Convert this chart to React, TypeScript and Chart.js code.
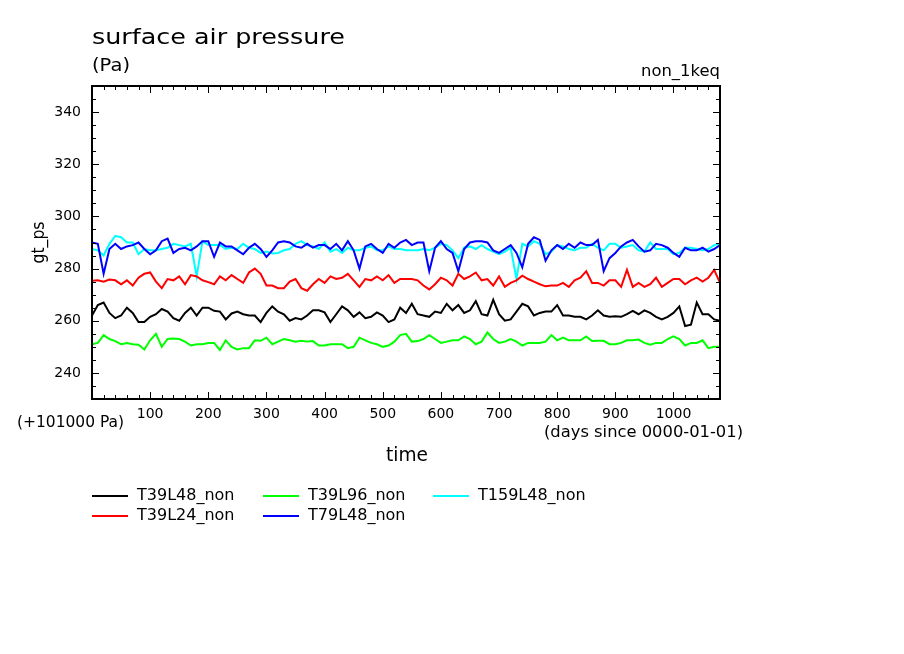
import React, { useEffect, useRef } from "react";
import { Chart, registerables } from "chart.js";

Chart.register(...registerables);

const DAYS = [
  0, 10, 20, 30, 40, 50, 60, 70, 80, 90, 100, 110, 120, 130, 140, 150, 160, 170,
  180, 190, 200, 210, 220, 230, 240, 250, 260, 270, 280, 290, 300, 310, 320, 330, 340, 350,
  360, 370, 380, 390, 400, 410, 420, 430, 440, 450, 460, 470, 480, 490, 500, 510, 520, 530,
  540, 550, 560, 570, 580, 590, 600, 610, 620, 630, 640, 650, 660, 670, 680, 690, 700, 710,
  720, 730, 740, 750, 760, 770, 780, 790, 800, 810, 820, 830, 840, 850, 860, 870, 880, 890,
  900, 910, 920, 930, 940, 950, 960, 970, 980, 990, 1000, 1010, 1020, 1030, 1040, 1050, 1060, 1070, 1080,
];

const T39L48 = [
  262, 266, 267, 263, 261, 262, 265, 263, 259.5, 259.5, 261.5, 262.5, 264.5, 263.5, 261, 260, 263, 265,
  262, 265, 265, 263.8, 263.5, 260.5, 262.8, 263.5, 262.5, 262, 262, 259.5, 263, 265.5, 263.5, 262.5, 260, 261,
  260.5, 262, 264, 264, 263.2, 259.5, 262.5, 265.5, 264, 261.5, 263.2, 261, 261.5, 263.2, 262, 259.5, 260.5, 265,
  263, 266.5, 262.5, 262, 261.5, 263.5, 263, 266.5, 264, 266, 263, 264, 267.5, 262.5, 262, 268, 262.5, 260,
  260.5, 263.5, 266.5, 265.5, 262, 263, 263.5, 263.5, 266, 262, 262, 261.5, 261.5, 260.5, 262, 264, 262, 261.5,
  261.7, 261.5, 262.5, 263.8, 262.5, 264, 263, 261.5, 260.5, 261.5, 263, 265.5, 258, 258.5, 267, 262.5, 262.5, 260.5, 260,
];

const T39L24 = [
  275.3, 275.5, 275, 275.8, 275.5, 274, 275.5, 273.5, 276.5, 278, 278.5, 275, 272.5, 276, 275.5, 277, 274, 277.5,
  277, 275.5, 274.8, 274, 277, 275.5, 277.5, 276, 274.5, 278.5, 280, 278, 273.5, 273.5, 272.5, 272.5, 275, 276,
  272.5, 271.5, 274, 276, 274.5, 277, 276, 276.5, 278, 275.5, 273, 276, 275.5, 277, 275.5, 277.5, 274.5, 276,
  276, 276, 275.5, 273.5, 272, 274, 276.5, 275.5, 273.5, 278, 276, 277, 278.5, 275.5, 276, 273.5, 277, 273,
  274.5, 275.5, 277.3, 276, 275, 274, 273.2, 273.5, 273.5, 274.5, 273, 275.5, 276.5, 279, 274.5, 274.5, 273.5, 275.5,
  275.5, 273, 279.5, 273, 274.5, 273, 274, 276.5, 273, 274.5, 276, 276, 274, 275.5, 276.5, 275, 276.5, 279.5, 274.5,
];

const T39L96 = [
  251, 251.5, 254.5, 253, 252.2, 251, 251.5, 251, 250.8, 249, 252.5, 255, 250, 253, 253.2, 253, 252, 250.5,
  251, 251, 251.5, 251.5, 248.8, 252.5, 250, 249, 249.5, 249.5, 252.5, 252.3, 253.5, 251, 252, 253, 252.5, 252,
  252.3, 252, 252.2, 250.5, 250.5, 251, 251, 251, 249.5, 250, 253.5, 252.5, 251.5, 251, 250, 250.5, 252, 254.5,
  255, 252, 252.2, 253, 254.5, 253, 251.5, 252, 252.5, 252.5, 254, 253, 251, 252, 255.5, 253, 251.5, 252,
  253, 252, 250.5, 251.5, 251.5, 251.5, 252, 254.5, 252.5, 253.5, 252.5, 252.5, 252.5, 254, 252.2, 252.3, 252.3, 251,
  251, 251.5, 252.5, 252.5, 252.8, 251.5, 250.8, 251.5, 251.5, 253, 254, 253, 250.5, 251.5, 251.5, 252.5, 249.5, 250, 250,
];

const T79L48 = [
  290, 289.5, 278, 287.5, 289.5, 287.5, 288.5, 289, 290, 287.5, 285.5, 287, 290.5, 291.5, 286, 287.5, 288, 287,
  288.5, 290.5, 290.5, 284.5, 290, 288.5, 288.5, 287, 285.5, 288, 289.5, 287.5, 284.5, 287, 290, 290.5, 290, 288.5,
  288, 289.5, 288, 289, 289, 287.5, 289.5, 287, 290.5, 287, 280, 288.5, 289.5, 287.5, 286, 289.5, 288, 290,
  291, 289, 290, 290, 279, 288, 290.5, 287.5, 286, 279, 287.5, 290, 290.5, 290.5, 290, 287, 286, 287.5,
  289, 286, 280.5, 289.5, 292, 291, 283, 287, 289, 287.5, 289.5, 288, 290, 289, 289, 291, 279, 284,
  286, 288.5, 290, 291, 288.5, 286.5, 287, 289.5, 289, 288, 286, 284.5, 288, 287, 287, 288, 286.5, 287.5, 289,
];

const T159L48 = [
  287.5, 287, 285, 289.5, 292.5, 292, 290, 290, 285.5, 287.5, 287, 287, 287.5, 288, 289.5, 289, 288.5, 289.5,
  277, 290.5, 289, 289, 289, 287.5, 288, 287.5, 289.5, 288, 287.5, 286, 286.5, 285.8, 286, 287, 287.5, 289.5,
  290.5, 289, 288.5, 287.5, 290, 286.5, 287.5, 286, 288, 287, 287, 288, 288.5, 287, 287, 288.5, 287.5, 287.5,
  287, 287, 287, 287.5, 287, 288, 289.5, 289, 287, 284, 288, 288.5, 287.5, 289, 287.5, 286.5, 285.5, 286.5,
  288, 276, 289.5, 288.5, 290.5, 289.5, 285.5, 286.5, 289, 288.5, 287.5, 287, 288, 288, 289.5, 288, 287, 289.5,
  289.5, 288, 288.5, 289, 287, 286.5, 290, 287.5, 287.5, 287.5, 285.5, 286, 288, 288, 287.5, 287, 287.5, 289, 289.5,
];

const SERIES_LABELS = ["T39L48_non", "T39L24_non", "T39L96_non", "T79L48_non", "T159L48_non"];
const SERIES_COLORS = ["#000000", "#ff0000", "#00ff00", "#0000ff", "#00ffff"];
const SERIES_VALUES = [T39L48, T39L24, T39L96, T79L48, T159L48];

const X_MIN = 0;
const X_MAX = 1080;
const X_MAJOR = 100;
const X_MINOR = 20;
const Y_MIN = 230;
const Y_MAX = 350;
const Y_MAJOR = 20;
const Y_MINOR = 5;
const X_TICK_LABELS = ["100", "200", "300", "400", "500", "600", "700", "800", "900", "1000"];
const Y_TICK_LABELS = ["240", "260", "280", "300", "320", "340"];

const FONT = '"DejaVu Sans", "Liberation Sans", sans-serif';

function fitText(
  ctx: CanvasRenderingContext2D,
  text: string,
  x: number,
  y: number,
  size: number,
  width: number,
  align: "left" | "right" | "center" = "left",
  rotate = 0
) {
  ctx.save();
  ctx.font = `${size}px ${FONT}`;
  const w = ctx.measureText(text).width;
  const sx = w > 0 ? width / w : 1;
  ctx.translate(x, y);
  if (rotate) ctx.rotate(rotate);
  ctx.scale(sx, 1);
  ctx.textAlign = align;
  ctx.textBaseline = "middle";
  ctx.fillStyle = "#000";
  ctx.fillText(text, 0, 0);
  ctx.restore();
}

const decorPlugin = {
  id: "decor",
  afterDatasetsDraw(chart: any) {
    const { ctx, chartArea: a, scales } = chart;
    const xs = scales.x;
    const ys = scales.y;
    ctx.save();
    ctx.strokeStyle = "#000";
    ctx.lineWidth = 1;
    for (let v = X_MIN; v <= X_MAX; v += X_MINOR) {
      const px = Math.round(xs.getPixelForValue(v)) + 0.5;
      const len = v % X_MAJOR === 0 ? 7 : 4;
      ctx.beginPath();
      ctx.moveTo(px, a.bottom);
      ctx.lineTo(px, a.bottom - len);
      ctx.moveTo(px, a.top);
      ctx.lineTo(px, a.top + len);
      ctx.stroke();
    }
    for (let v = Y_MIN; v <= Y_MAX; v += Y_MINOR) {
      const py = Math.round(ys.getPixelForValue(v)) + 0.5;
      const len = v % Y_MAJOR === 0 ? 7 : 4;
      ctx.beginPath();
      ctx.moveTo(a.left, py);
      ctx.lineTo(a.left + len, py);
      ctx.moveTo(a.right, py);
      ctx.lineTo(a.right - len, py);
      ctx.stroke();
    }
    ctx.lineWidth = 2;
    ctx.strokeRect(a.left, a.top, a.right - a.left, a.bottom - a.top);
    ctx.restore();

    fitText(ctx, "surface air pressure", a.left, 38, 22, 253);
    fitText(ctx, "(Pa)", a.left, 67, 17, 38);
    fitText(ctx, "non_1keq", a.right, 72, 15, 79, "right");
    fitText(ctx, "gt_ps", 40, (a.top + a.bottom) / 2, 17, 42, "center", -Math.PI / 2);
    fitText(ctx, "(+101000 Pa)", 17, 423, 15, 107);
    fitText(ctx, "(days since 0000-01-01)", 544, 433, 16, 199);
    fitText(ctx, "time", 407, 456, 19, 42, "center");

    const colX = [92, 263, 433];
    const rowY = [496, 516];
    chart.data.datasets.forEach((ds: any, i: number) => {
      const col = Math.floor(i / 2);
      const row = i % 2;
      const lx = colX[col];
      const ly = rowY[row];
      ctx.save();
      ctx.strokeStyle = ds.borderColor;
      ctx.lineWidth = 2;
      ctx.beginPath();
      ctx.moveTo(lx, ly);
      ctx.lineTo(lx + 36, ly);
      ctx.stroke();
      ctx.restore();
      ctx.save();
      ctx.font = `16px ${FONT}`;
      ctx.fillStyle = "#000";
      ctx.textBaseline = "middle";
      ctx.textAlign = "left";
      ctx.fillText(ds.label, lx + 45, ly);
      ctx.restore();
    });
  },
};

export default function App() {
  const canvasRef = useRef<HTMLCanvasElement | null>(null);

  useEffect(() => {
    const canvas = canvasRef.current;
    if (!canvas) return;
    const datasets = SERIES_VALUES.map((vals, i) => ({
      label: SERIES_LABELS[i],
      data: DAYS.map((d, j) => ({ x: d, y: vals[j] })),
      borderColor: SERIES_COLORS[i],
      backgroundColor: SERIES_COLORS[i],
      borderWidth: 2,
      pointRadius: 0,
      tension: 0,
      fill: false,
    }));
    const chart = new Chart(canvas, {
      type: "line",
      data: { datasets },
      options: {
        animation: false,
        responsive: false,
        devicePixelRatio: 1,
        layout: { padding: { left: 0, right: 184, top: 86, bottom: 215 } },
        plugins: {
          legend: { display: false },
          title: { display: false },
          tooltip: { enabled: false },
        },
        scales: {
          x: {
            type: "linear",
            min: X_MIN,
            max: X_MAX,
            grid: { display: false, drawTicks: false },
            border: { display: false },
            afterBuildTicks: (s: any) => {
              s.ticks = X_TICK_LABELS.map((t) => ({ value: Number(t) }));
            },
            ticks: {
              padding: 7,
              color: "#000",
              font: { family: FONT, size: 14 },
              maxRotation: 0,
              autoSkip: false,
              callback: (v: any) => String(v),
            },
            afterFit: (s: any) => {
              s.height = 40;
            },
          },
          y: {
            type: "linear",
            min: Y_MIN,
            max: Y_MAX,
            grid: { display: false, drawTicks: false },
            border: { display: false },
            afterBuildTicks: (s: any) => {
              s.ticks = Y_TICK_LABELS.map((t) => ({ value: Number(t) }));
            },
            ticks: {
              padding: 11,
              color: "#000",
              font: { family: FONT, size: 14 },
              autoSkip: false,
              callback: (v: any) => String(v),
            },
            afterFit: (s: any) => {
              s.width = 92;
            },
          },
        },
      },
      plugins: [decorPlugin],
    });
    return () => chart.destroy();
  }, []);

  return (
    <div style={{ position: "fixed", left: 0, top: 0, width: 904, height: 654, background: "#fff" }}>
      <canvas ref={canvasRef} width={904} height={654} style={{ width: 904, height: 654, display: "block" }} />
    </div>
  );
}
